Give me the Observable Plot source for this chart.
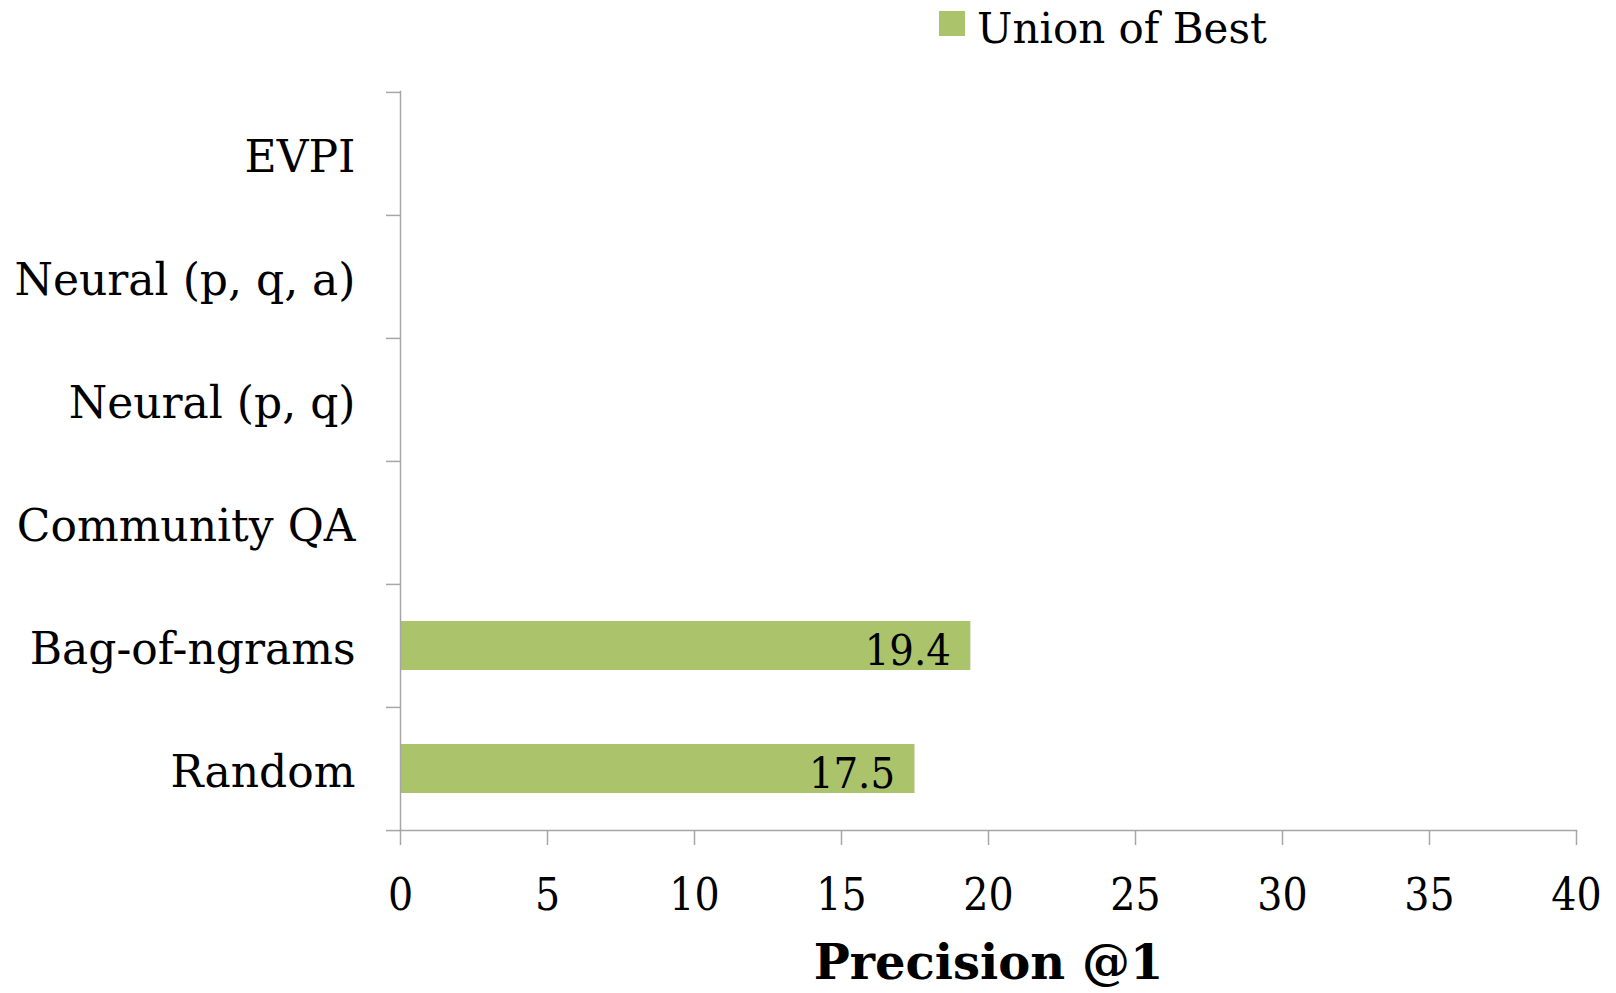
<!DOCTYPE html>
<html><head><meta charset="utf-8">
<script src="https://cdn.jsdelivr.net/npm/d3@7"></script>
<script src="https://cdn.jsdelivr.net/npm/@observablehq/plot@0.6"></script>
<style>
body{margin:0;background:#fff;}
#legend{display:block;}
#chart svg{display:block;}
</style></head><body>
<svg id="legend" width="1616" height="55"></svg>
<div id="chart"></div>
<script>
const categories = ["Random", "Bag-of-ngrams", "Community QA", "Neural (p, q)", "Neural (p, q, a)", "EVPI"];
const seriesName = "Union of Best";
const unionOfBest = [17.5, 19.4, null, null, null, null];
const xTicks = [0, 5, 10, 15, 20, 25, 30, 35, 40];
const xLabel = "Precision @1";
const barColor = "#abc46c";
const axisColor = "#a6a6a6";

const serif = "'DejaVu Serif', serif";
const serifC = "'DejaVu Serif Condensed', 'DejaVu Serif', serif";

// legend
const lg = d3.select("#legend");
lg.append("rect").attr("x", 939).attr("y", 11).attr("width", 26).attr("height", 25).attr("fill", barColor);
lg.append("text").attr("x", 977).attr("y", 43).attr("font-family", serif).attr("font-size", 42).attr("fill", "#000").text(seriesName);

const data = categories.map((c, i) => ({cat: c, value: unionOfBest[i]})).filter(d => d.value != null);

const W = 1616, H = 938, mt = 36, mb = 163, ml = 400, mr = 40;
const step = (H - mt - mb) / categories.length;

const chart = Plot.plot({
  width: W, height: H,
  marginTop: mt, marginBottom: mb, marginLeft: ml, marginRight: mr,
  style: {fontFamily: serif, color: "#000", background: "#fff"},
  x: {domain: [0, 40]},
  y: {domain: categories.slice().reverse(), padding: 0},
  marks: [
    Plot.barX(data, {x: "value", y: "cat", fill: barColor, insetTop: 37, insetBottom: 37}),
    Plot.text(data, {x: "value", y: "cat", text: d => d.value.toFixed(1), textAnchor: "end", dx: -20, dy: 5, fontSize: 43, fontFamily: serifC, fill: "#000"}),
    Plot.frame({anchor: "left", stroke: axisColor, strokeWidth: 1.5}),
    Plot.frame({anchor: "bottom", stroke: axisColor, strokeWidth: 1.5}),
    Plot.axisY({tickSize: 0, tickPadding: 45, fontSize: 44, dy: 4, label: null, fill: "#000"}),
    Plot.axisY({tickSize: 14, fill: "none", stroke: axisColor, strokeWidth: 1.5, dy: -step / 2, label: null}),
    Plot.axisY({ticks: [categories[0]], tickSize: 14, fill: "none", stroke: axisColor, strokeWidth: 1.5, dy: step / 2, label: null}),
    Plot.axisX({ticks: xTicks, tickSize: 15, tickPadding: 33, fontSize: 44, fontFamily: serifC, stroke: axisColor, strokeWidth: 1.5, fill: "#000", label: null}),
    Plot.text([xLabel], {frameAnchor: "bottom", dy: 148, fontSize: 48, fontWeight: "bold", fill: "#000"})
  ]
});
document.getElementById("chart").appendChild(chart);
</script>
</body></html>
